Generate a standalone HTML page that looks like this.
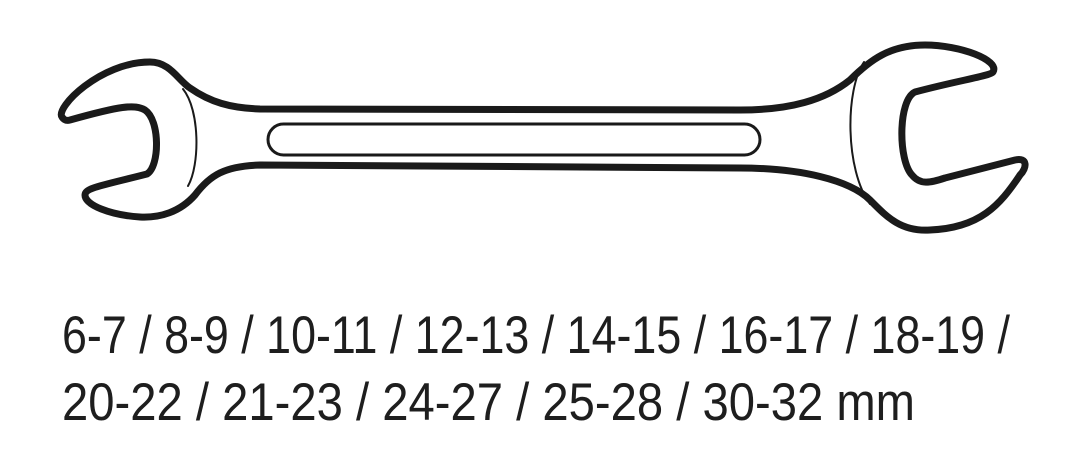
<!DOCTYPE html>
<html><head><style>html,body{margin:0;padding:0;background:#fff;width:1080px;height:467px;overflow:hidden}</style></head>
<body>
<svg width="1080" height="467" viewBox="0 0 1080 467" xmlns="http://www.w3.org/2000/svg">
<g fill="none" stroke="#1a1a1a" stroke-linejoin="round" stroke-linecap="round">
<path stroke-width="7" d="M62,117 C55,108 100,62 150,62 C170,62 178,80 190,88 C210,102 230,108 260,109 L740,110 C790,110 825,100 850,80 C870,60 890,45 925,45 C960,45 1000,60 993,72 C990,76 960,80 915,92 C898,100 898,160 912,175 C920,185 930,183 945,178 L1015,160 C1028,157 1027,168 1020,175 C1000,205 980,228 930,230 C900,232 885,215 870,200 C850,180 800,168 740,168 L260,165 C225,166 210,175 195,195 C180,212 160,218 140,217 C110,215 85,205 85,195 C85,188 100,186 147,174 C160,166 160,120 145,110 C135,104 120,106 70,120 C66,121 64,120 62,117 Z"/>
<path stroke-width="2" d="M183,89 C200,110 200,165 188,186"/>
<path stroke-width="2" d="M864,62 C845,90 845,170 870,204"/>
<rect x="268" y="124" width="492" height="31" rx="15.5" stroke-width="3"/>
</g>
<g font-family="'Liberation Sans Narrow','Liberation Sans',sans-serif" font-size="53" fill="#1e1e1e">
<text x="62" y="353" textLength="948" lengthAdjust="spacingAndGlyphs">6-7 / 8-9 / 10-11 / 12-13 / 14-15 / 16-17 / 18-19 /</text>
<text x="62" y="420" textLength="853" lengthAdjust="spacingAndGlyphs">20-22 / 21-23 / 24-27 / 25-28 / 30-32 mm</text>
</g>
</svg>
</body></html>
